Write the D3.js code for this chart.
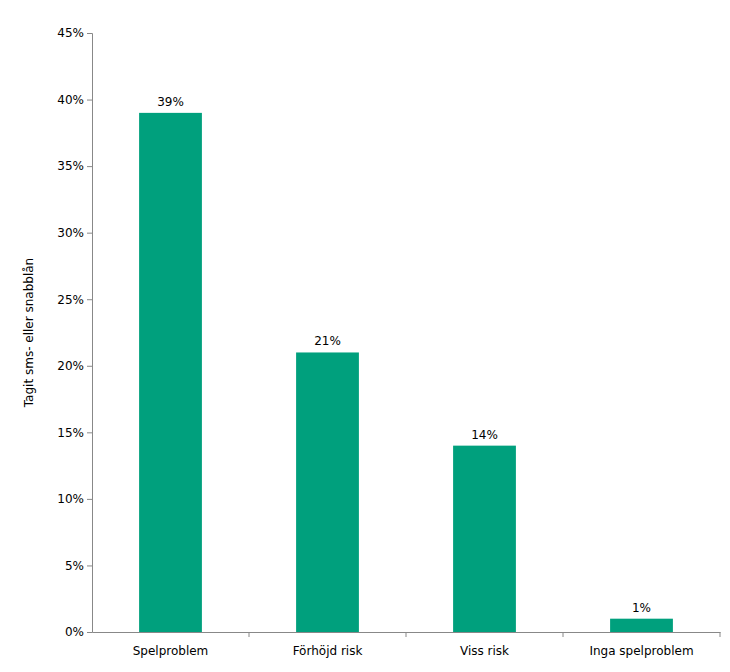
<!DOCTYPE html>
<html><head><meta charset="utf-8">
<script src="https://cdn.jsdelivr.net/npm/d3@7"></script>
<style>body{margin:0;background:#fff}text{font-family:"DejaVu Sans",Verdana,sans-serif}</style>
</head><body><svg id="c" width="730" height="672"></svg>
<script>
const categories=["Spelproblem","Förhöjd risk","Viss risk","Inga spelproblem"];
const values=[39,21,14,1];
const yTicks=[0,5,10,15,20,25,30,35,40,45];
const svg=d3.select("#c");
const L=92,R=720,T=33,B=632;
const x=d3.scaleBand().domain(categories).range([L,R]).paddingInner(0.6).paddingOuter(0.3);
const xb=d3.scaleBand().domain(categories).range([L,R]);
const y=d3.scaleLinear().domain([0,45]).range([B,T]);
const g=svg.append("g");
g.selectAll("rect").data(values).join("rect")
 .attr("x",(d,i)=>x(categories[i])).attr("width",x.bandwidth())
 .attr("y",d=>y(d)).attr("height",d=>B-y(d)).attr("fill","#00A07D");
g.selectAll(".lbl").data(values).join("text").attr("class","lbl")
 .attr("x",(d,i)=>x(categories[i])+x.bandwidth()/2).attr("y",d=>y(d)-7)
 .attr("text-anchor","middle").attr("font-size",12).text(d=>d+"%");
const ya=svg.append("g").attr("transform",`translate(${L},0)`)
 .call(d3.axisLeft(y).tickValues(yTicks).tickFormat(d=>d+"%").tickSize(5));
ya.selectAll("text").attr("font-size",12).attr("fill","#000").attr("font-family","DejaVu Sans");
ya.selectAll("path,line").attr("stroke","#888");
const xa=svg.append("g").attr("transform",`translate(0,${B})`)
 .call(d3.axisBottom(xb).tickSize(0).tickPadding(14));
xa.selectAll("text").attr("font-size",12).attr("fill","#000").attr("font-family","DejaVu Sans");
xa.selectAll("path").attr("stroke","#888");
xa.selectAll(".sep").data(categories.slice(1)).join("line").attr("class","sep")
 .attr("x1",d=>xb(d)).attr("x2",d=>xb(d)).attr("y1",0).attr("y2",5).attr("stroke","#888");
xa.append("line").attr("x1",R).attr("x2",R).attr("y1",0).attr("y2",5).attr("stroke","#888");
svg.append("text").attr("transform",`translate(33,${(T+B)/2}) rotate(-90)`)
 .attr("text-anchor","middle").attr("font-size",12).text("Tagit sms- eller snabblån");
</script></body></html>
